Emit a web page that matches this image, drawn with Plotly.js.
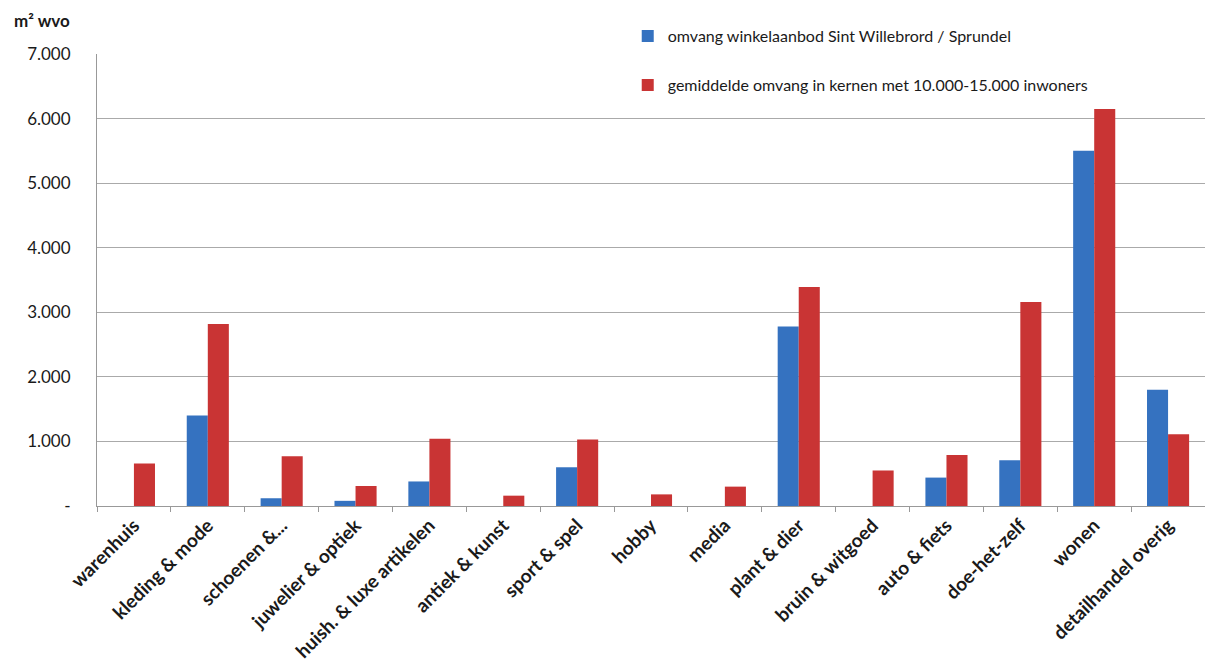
<!DOCTYPE html>
<html>
<head>
<meta charset="utf-8">
<script src="https://cdn.plot.ly/plotly-3.0.1.min.js"></script>
<style>html,body{margin:0;padding:0;background:#fff;}#chart{width:1205px;height:662px;}</style>
</head>
<body>
<div id="chart"></div>
<script>
const categories = ["warenhuis","kleding & mode","schoenen &...","juwelier & optiek","huish. & luxe artikelen","antiek & kunst","sport & spel","hobby","media","plant & dier","bruin & witgoed","auto & fiets","doe-het-zelf","wonen","detailhandel overig"];
const seriesNames = ["omvang winkelaanbod Sint Willebrord / Sprundel","gemiddelde omvang in kernen met 10.000-15.000 inwoners"];
const sintWillebrord = [0, 1400, 120, 80, 380, 0, 600, 0, 0, 2780, 0, 440, 710, 5500, 1800];
const gemiddelde = [660, 2820, 770, 310, 1040, 160, 1030, 180, 300, 3390, 550, 790, 3160, 6150, 1110];
const yTickVals = [0, 1000, 2000, 3000, 4000, 5000, 6000, 7000];
const yTickText = ["-", "1.000", "2.000", "3.000", "4.000", "5.000", "6.000", "7.000"];
const yTitle = "m² wvo";

const FONT = "Lato, 'Open Sans', sans-serif";
const traces = [
  {type:'bar', name:seriesNames[0], x:categories, y:sintWillebrord, legendgroup:'a',
   marker:{color:'#3572C0', line:{width:0}}, hoverinfo:'y'},
  {type:'bar', name:seriesNames[1], x:categories, y:gemiddelde, legendgroup:'b',
   marker:{color:'#C93434', line:{width:0}}, hoverinfo:'y'}
];
const layout = {
  width:1205, height:662,
  margin:{l:97, r:0, t:54, b:156},
  paper_bgcolor:'#fff', plot_bgcolor:'#fff',
  font:{family:FONT, color:'#1a1a1a', size:15},
  barmode:'group', bargap:0.43, bargroupgap:0,
  showlegend:true,
  legend:{x:0.479, y:1.077, xanchor:'left', yanchor:'top', bgcolor:'rgba(0,0,0,0)',
          traceorder:'grouped', tracegroupgap:25, font:{size:16, color:'#1a1a1a', family:FONT},
          itemwidth:30},
  xaxis:{type:'category', showgrid:false, showline:true, linecolor:'#999', linewidth:1,
         ticks:'outside', tickson:'boundaries', ticklen:5, tickcolor:'#999',
         tickangle:-45, tickfont:{size:19, family:FONT, weight:'bold', color:'#1a1a1a'},
         fixedrange:true},
  yaxis:{range:[0,7000], tickvals:yTickVals, ticktext:yTickText, showgrid:true,
         gridcolor:'#aaa', gridwidth:1, showline:true, linecolor:'#999', linewidth:1,
         zeroline:false, ticks:'', ticklabelstandoff:22,
         tickfont:{size:17, family:FONT, color:'#1a1a1a'}, fixedrange:true},
  shapes:[{type:'rect', xref:'paper', yref:'paper', x0:0.431, x1:1, y0:0.985, y1:1.012,
           fillcolor:'#fff', line:{width:0}, layer:'above'}],
  annotations:[{text:yTitle, xref:'paper', yref:'paper', x:-0.077, y:1.075, xanchor:'left', yanchor:'middle',
                showarrow:false, font:{size:17, family:FONT, weight:'bold', color:'#1a1a1a'}}]
};
Plotly.newPlot('chart', traces, layout, {displayModeBar:false, staticPlot:true});
</script>
</body>
</html>
